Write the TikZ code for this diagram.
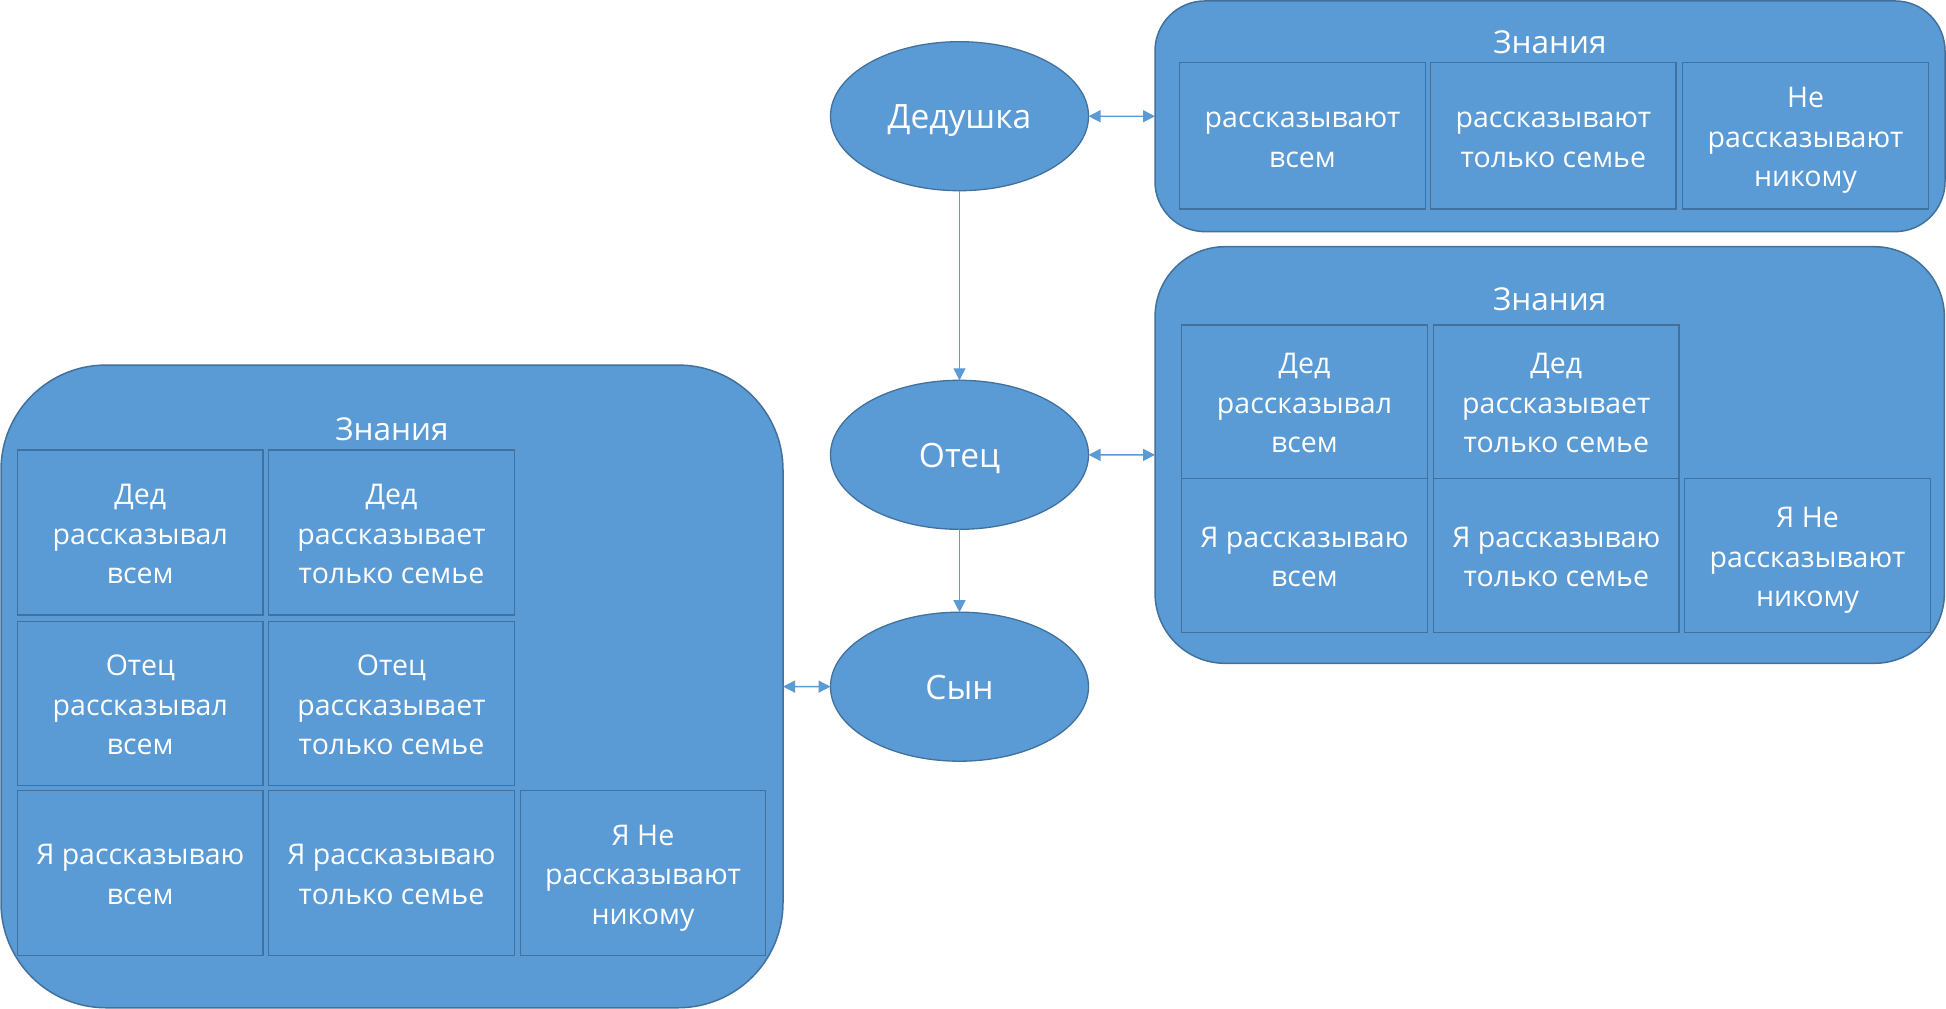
\documentclass[tikz,border=0pt]{standalone}
\usepackage{fontspec}
\setmainfont{Open Sans}
\usetikzlibrary{shapes.geometric,arrows.meta}
\definecolor{fillb}{HTML}{5B9BD5}
\definecolor{edgeb}{HTML}{41719C}
\newcommand{\fst}{\vrule height 30.5pt depth 0pt width 0pt\relax}
\newcommand{\lst}{\vrule height 0pt depth 7.5pt width 0pt\relax}
\begin{document}
\begin{tikzpicture}[x=1pt,y=-1pt,
  container/.style={draw=edgeb, fill=fillb, line width=1.5pt, rounded corners=#1, inner sep=0pt, outer sep=0pt},
  cell/.style={draw=edgeb, fill=fillb, line width=1.3pt, minimum width=245.5pt, minimum height=#1, inner sep=0pt, outer sep=0pt, text=white, align=center, font=\fontsize{28.5}{39.5}\selectfont},
  title/.style={text=white, anchor=base, inner sep=0pt, font=\fontsize{31.5}{38}\selectfont},
  person/.style={ellipse, draw=edgeb, fill=fillb, line width=1.3pt, minimum width=258pt, minimum height=149pt, inner sep=0pt, outer sep=0pt, text=white, font=\fontsize{33.5}{40}\selectfont, text height=26pt, text depth=1.4pt},
  link/.style={draw=fillb, line width=1.3pt},
  one/.style={link, -{Triangle[length=12pt,width=12pt]}},
  both/.style={link, {Triangle[length=12pt,width=12pt]}-{Triangle[length=12pt,width=12pt]}}
]
\path[use as bounding box, fill=white] (0,0) rectangle (1946,1009);

% containers
\node[container=50pt, minimum width=790pt, minimum height=230.7pt] (topc) at (1550,116.3) {};
\node[container=70pt, minimum width=789.3pt, minimum height=416.6pt] (midc) at (1549.7,455) {};
\node[container=105pt, minimum width=782pt, minimum height=642.7pt] (leftc) at (392,686.4) {};

% titles
\node[title] (t1) at (1550,53.3) {Знания};
\node[title] (t2) at (1549.7,310) {Знания};
\node[title] (t3) at (392,440) {Знания};

% top container cells
\node[cell=146.3pt] (a1) at (1302.5,135.8) {\fst рассказывают\\всем\lst};
\node[cell=146.3pt] (a2) at (1553.3,135.8) {\fst рассказывают\\только семье\lst};
\node[cell=146.3pt] (a3) at (1805.5,135.8) {\fst Не\\рассказывают\\никому\lst};

% middle container cells
\node[cell=153.3pt] (b1) at (1304.5,401.7) {\fst Дед\\рассказывал\\всем\lst};
\node[cell=153.3pt] (b2) at (1556.3,401.7) {\fst Дед\\рассказывает\\только семье\lst};
\node[cell=154.4pt] (b3) at (1304.5,555.5) {\fst Я рассказываю\\всем\lst};
\node[cell=154.4pt] (b4) at (1556.3,555.5) {\fst Я рассказываю\\только семье\lst};
\node[cell=154.4pt] (b5) at (1807.5,555.5) {\fst Я Не\\рассказывают\\никому\lst};

% left container cells
\node[cell=165pt] (c1) at (140.3,532.5) {\fst Дед\\рассказывал\\всем\lst};
\node[cell=165pt] (c2) at (391.5,532.5) {\fst Дед\\рассказывает\\только семье\lst};
\node[cell=164pt] (c3) at (140.3,703.6) {\fst Отец\\рассказывал\\всем\lst};
\node[cell=164pt] (c4) at (391.5,703.6) {\fst Отец\\рассказывает\\только семье\lst};
\node[cell=165pt] (c5) at (140.3,873) {\fst Я рассказываю\\всем\lst};
\node[cell=165pt] (c6) at (391.5,873) {\fst Я рассказываю\\только семье\lst};
\node[cell=165pt] (c7) at (643,873) {\fst Я Не\\рассказывают\\никому\lst};

% persons
\node[person] (ded) at (959.5,116.2) {Дедушка};
\node[person] (otec) at (959.5,454.8) {Отец};
\node[person] (syn) at (959.5,686.7) {Сын};

% connectors
\draw[one] (ded) -- (otec);
\draw[one] (otec) -- (syn);
\draw[both] (ded) -- (topc);
\draw[both] (otec) -- (midc);
\draw[both] (syn) -- (leftc);
\end{tikzpicture}
\end{document}
